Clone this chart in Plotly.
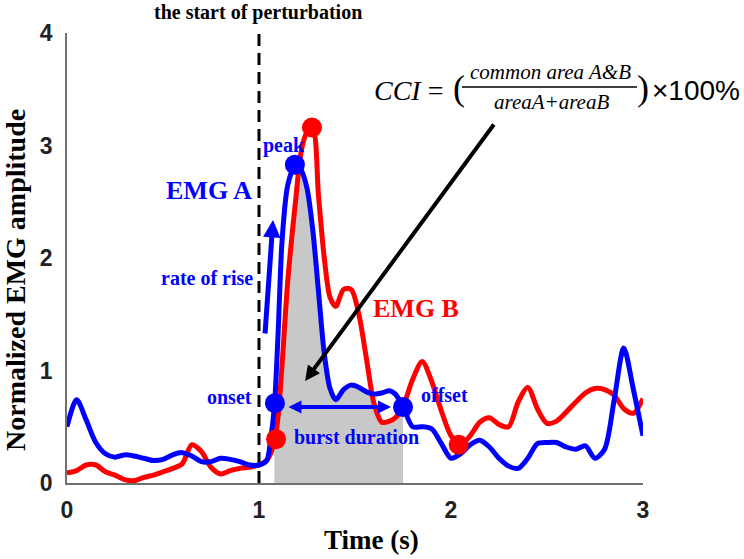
import plotly.graph_objects as go
import numpy as np

# ---------------- data ----------------
time_s = [0.00, 0.05, 0.10, 0.15, 0.20, 0.25, 0.30, 0.35, 0.40, 0.45, 0.50, 0.55, 0.60, 0.65,
          0.70, 0.75, 0.80, 0.85, 0.90, 0.95, 1.00, 1.04, 1.06, 1.08, 1.10, 1.12, 1.15, 1.19,
          1.22, 1.25, 1.28, 1.31, 1.34, 1.37, 1.40, 1.44, 1.48, 1.52, 1.56, 1.60, 1.64, 1.68,
          1.71, 1.75, 1.80, 1.85, 1.90, 1.95, 2.00, 2.05, 2.10, 2.15, 2.20, 2.25, 2.30, 2.35,
          2.40, 2.45, 2.50, 2.55, 2.60, 2.65, 2.70, 2.75, 2.80, 2.85, 2.90, 2.95, 3.00]

emg_a = [0.50, 0.74, 0.56, 0.36, 0.26, 0.23, 0.25, 0.24, 0.22, 0.20, 0.21, 0.25, 0.27, 0.24,
         0.19, 0.19, 0.22, 0.21, 0.19, 0.16, 0.16, 0.20, 0.38, 0.68, 1.35, 2.15, 2.65, 2.83,
         2.78, 2.62, 2.25, 1.70, 1.15, 0.84, 0.74, 0.83, 0.87, 0.85, 0.81, 0.79, 0.80, 0.82,
         0.79, 0.68, 0.50, 0.50, 0.48, 0.35, 0.22, 0.26, 0.34, 0.38, 0.32, 0.22, 0.15, 0.13,
         0.22, 0.35, 0.36, 0.36, 0.32, 0.30, 0.33, 0.22, 0.30, 0.74, 1.20, 0.83, 0.42]

emg_b = [0.09, 0.11, 0.16, 0.16, 0.10, 0.07, 0.03, 0.02, 0.05, 0.07, 0.10, 0.13, 0.17, 0.34,
         0.28, 0.14, 0.08, 0.11, 0.13, 0.14, 0.16, 0.20, 0.26, 0.36, 0.60, 1.05, 1.80, 2.50,
         2.95, 3.12, 3.15, 2.55, 2.00, 1.65, 1.57, 1.72, 1.72, 1.50, 1.10, 0.70, 0.54, 0.55,
         0.58, 0.68, 0.92, 1.08, 0.90, 0.64, 0.42, 0.34, 0.42, 0.54, 0.58, 0.52, 0.50, 0.72,
         0.85, 0.66, 0.53, 0.55, 0.63, 0.72, 0.80, 0.84, 0.83, 0.78, 0.66, 0.62, 0.75]

# marked points: onset, peak, offset (A) ; onset, peak, minimum (B)
a_mark_t = [1.083, 1.187, 1.75]
a_mark_v = [0.71, 2.83, 0.675]
b_mark_t = [1.089, 1.276, 2.04]
b_mark_v = [0.39, 3.16, 0.34]

perturbation_t = 1.0
burst_onset = 1.08
burst_offset = 1.75

x_ticks = [0, 1, 2, 3]
y_ticks = [0, 1, 2, 3, 4]

# ---------------- figure ----------------
BLUE = "#0000ff"
RED = "#ff0000"
SERIF = "Liberation Serif, Times New Roman, serif"
SANS = "Liberation Sans, Arial, sans-serif"

W, H = 744, 559
ML, MR, MT, MB = 67, 101, 33, 76
PW, PH = W - ML - MR, H - MT - MB


def pos(px, py):
    return (px - ML) / PW, (H - MB - py) / PH


t_arr = np.array(time_s)
common = np.minimum(np.array(emg_a), np.array(emg_b))
sel = (t_arr >= burst_onset) & (t_arr <= burst_offset)

fig = go.Figure()

fig.add_trace(go.Scatter(x=t_arr[sel], y=common[sel], mode="lines", fill="tozeroy",
                         fillcolor="#c8c8c8", line=dict(width=0, shape="spline"),
                         hoverinfo="skip"))

fig.add_trace(go.Scatter(x=[perturbation_t, perturbation_t], y=[0, 4], mode="lines",
                         line=dict(color="black", width=3, dash="12px,7px")))

fig.add_trace(go.Scatter(x=time_s, y=emg_b, mode="lines",
                         line=dict(color=RED, width=5, shape="spline", smoothing=0.8)))
fig.add_trace(go.Scatter(x=time_s, y=emg_a, mode="lines",
                         line=dict(color=BLUE, width=5, shape="spline", smoothing=0.8)))

fig.add_trace(go.Scatter(x=a_mark_t, y=a_mark_v, mode="markers",
                         marker=dict(color=BLUE, size=20)))
fig.add_trace(go.Scatter(x=b_mark_t, y=b_mark_v, mode="markers",
                         marker=dict(color=RED, size=20)))

ann = []


def text(s, px, py, size, color="black", xanchor="center", family=SERIF, angle=0):
    x, y = pos(px, py)
    ann.append(dict(text=s, x=x, y=y, xref="paper", yref="paper", xanchor=xanchor,
                    yanchor="middle", showarrow=False, textangle=angle,
                    font=dict(family=family, size=size, color=color)))


text("<b>the start of perturbation</b>", 258, 13, 20)
text("<b>EMG A</b>", 254, 190, 26, BLUE, "right")
text("<b>rate of rise</b>", 255, 278, 20, BLUE, "right")
text("<b>peak</b>", 261, 145, 20, BLUE, "left")
text("<b>onset</b>", 254, 397, 20, BLUE, "right")
text("<b>offset</b>", 419, 395, 20, BLUE, "left")
text("<b>burst duration</b>", 292, 437, 20, BLUE, "left")
text("<b>EMG B</b>", 461, 308, 26, RED, "right")

# axis titles
text("<b>Time (s)</b>", 371, 540, 27)
text("<b>Normalized EMG amplitude</b>", 15, 280, 28, angle=-90)

# formula
text("<i>CCI</i> =", 445, 90, 28, xanchor="right")
text("(", 459, 88, 36)
text("<i>common area A&amp;B</i>", 550, 72, 21)
text("<i>areaA+areaB</i>", 551, 102, 21)
text(")", 643, 88, 36)
text("×100%", 650, 90, 28, xanchor="left", family=SANS)

# arrows
ann.append(dict(text="", x=1.240, y=0.907, ax=2.229, ay=3.2, xref="x", yref="y",
                axref="x", ayref="y", showarrow=True, arrowhead=2, arrowwidth=4,
                arrowsize=0.75, arrowcolor="black"))
ann.append(dict(text="", x=1.073, y=2.338, ax=1.031, ay=1.316, xref="x", yref="y",
                axref="x", ayref="y", showarrow=True, arrowhead=2, arrowwidth=5,
                arrowsize=0.7, arrowcolor=BLUE))
ann.append(dict(text="", x=a_mark_t[2], y=a_mark_v[2], ax=a_mark_t[0], ay=a_mark_v[2],
                xref="x", yref="y", axref="x", ayref="y", showarrow=True,
                arrowhead=2, startarrowhead=2, arrowside="end+start", arrowwidth=4,
                arrowsize=0.65, startarrowsize=0.65, standoff=12, startstandoff=12,
                arrowcolor=BLUE))

fx0, fy = pos(462, 87)
fx1, _ = pos(637, 87)
shapes = [dict(type="line", xref="paper", yref="paper", x0=fx0, x1=fx1, y0=fy, y1=fy,
               line=dict(color="black", width=1.5))]

fig.update_layout(
    width=W, height=H, margin=dict(l=ML, r=MR, t=MT, b=MB),
    plot_bgcolor="white", paper_bgcolor="white", showlegend=False,
    annotations=ann, shapes=shapes,
    xaxis=dict(range=[0, 3], tickvals=x_ticks, showgrid=False, zeroline=False,
               showline=True, linecolor="#707070", linewidth=1.5, ticks="",
               ticklabelstandoff=6,
               tickfont=dict(family=SANS, size=23, color="#222", weight="bold")),
    yaxis=dict(range=[0, 4], tickvals=y_ticks, showgrid=False, zeroline=False,
               showline=True, linecolor="#707070", linewidth=1.5, ticks="",
               ticklabelstandoff=8,
               tickfont=dict(family=SANS, size=23, color="#222", weight="bold")),
)

fig.write_html("out.html")
